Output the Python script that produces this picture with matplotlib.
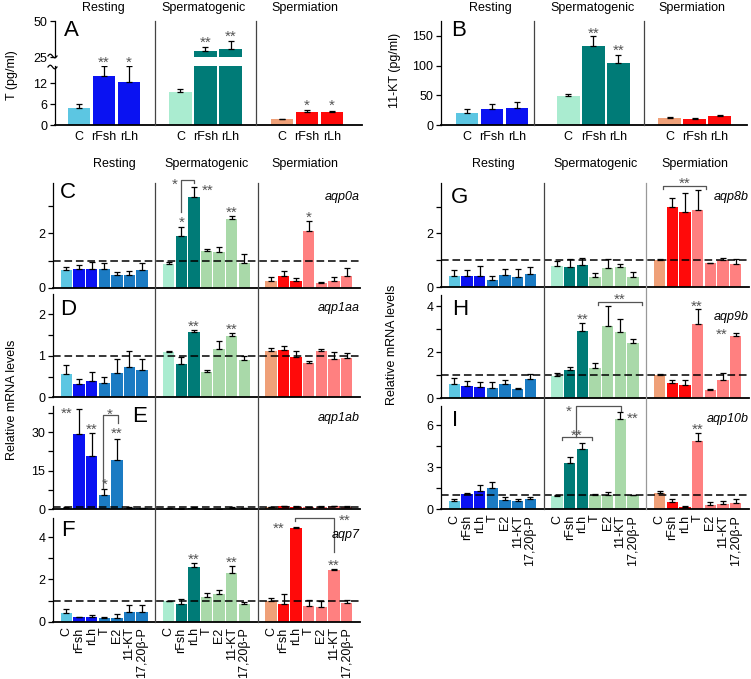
import numpy as np
import matplotlib.pyplot as plt
from matplotlib.lines import Line2D
from matplotlib.transforms import blended_transform_factory, offset_copy

plt.rcParams['font.family'] = ['Liberation Sans', 'DejaVu Sans']
plt.rcParams['font.size'] = 9

W, H = 751, 679

stages = ['Resting', 'Spermatogenic', 'Spermiation']
hormones = ['C', 'rFsh', 'rLh']
treatments = ['C', 'rFsh', 'rLh', 'T', 'E2', '11-KT', '17,20β-P']

# control, gonadotropins, steroids for each stage
stage_colors = [
    ('#5cc6e2', '#0a12f2', '#1b7bc3'),
    ('#aaecd0', '#007b77', '#a9d9a9'),
    ('#efa078', '#ff0a0a', '#ff8080'),
]

# ---- plasma steroids (pg/ml)
T_mean = [[5.0, 13.9, 12.4], [9.4, 29.2, 30.5], [1.6, 3.8, 3.6]]
T_sem = [[0.9, 2.9, 4.4], [0.9, 2.8, 5.5], [0.1, 0.6, 0.5]]
KT_mean = [[20, 27, 28], [49, 133.5, 104], [11, 10, 14.5]]
KT_sem = [[7, 9, 11], [4, 15.5, 14], [2, 2, 2.5]]

# ---- relative mRNA levels
aqp0a_mean = [[0.65, 0.68, 0.68, 0.68, 0.47, 0.47, 0.65],
              [0.86, 1.91, 3.35, 1.35, 1.30, 2.53, 0.90],
              [0.25, 0.44, 0.26, 2.10, 0.16, 0.25, 0.43]]
aqp0a_sem = [[0.10, 0.15, 0.28, 0.24, 0.10, 0.13, 0.25],
             [0.10, 0.31, 0.36, 0.08, 0.21, 0.11, 0.34],
             [0.16, 0.17, 0.08, 0.36, 0.05, 0.16, 0.28]]
aqp1aa_mean = [[0.55, 0.32, 0.40, 0.34, 0.59, 0.72, 0.66],
               [1.09, 0.80, 1.57, 0.60, 1.16, 1.48, 0.90],
               [1.12, 1.13, 0.98, 0.83, 1.12, 0.92, 0.95]]
aqp1aa_sem = [[0.23, 0.12, 0.22, 0.16, 0.33, 0.40, 0.27],
              [0.02, 0.16, 0.05, 0.06, 0.20, 0.06, 0.10],
              [0.08, 0.11, 0.14, 0.05, 0.04, 0.18, 0.12]]
aqp1ab_mean = [[0.5, 29.3, 20.7, 5.6, 19.2, 0.6, 0.4],
               [0.4, 0.3, 0.5, 0.2, 0.2, 0.6, 0.4],
               [0.8, 1.1, 1.0, 0.7, 0.9, 1.1, 1.0]]
aqp1ab_sem = [[0.2, 9.7, 8.8, 2.3, 8.0, 0.3, 0.1],
              [0.2, 0.2, 0.2, 0.1, 0.1, 0.2, 0.2],
              [0.2, 0.3, 0.2, 0.2, 0.2, 0.3, 0.2]]
aqp7_mean = [[0.40, 0.21, 0.21, 0.16, 0.19, 0.44, 0.44],
             [0.96, 0.82, 2.59, 1.16, 1.33, 2.32, 0.85],
             [0.96, 0.82, 4.42, 0.74, 0.70, 2.45, 0.87]]
aqp7_sem = [[0.19, 0.02, 0.11, 0.05, 0.16, 0.35, 0.33],
            [0.03, 0.24, 0.19, 0.22, 0.17, 0.30, 0.08],
            [0.15, 0.48, 0.08, 0.29, 0.29, 0.05, 0.16]]
aqp8b_mean = [[0.42, 0.41, 0.42, 0.26, 0.45, 0.38, 0.47],
              [0.79, 0.75, 0.82, 0.37, 0.72, 0.76, 0.37],
              [1.00, 3.00, 2.80, 2.87, 0.88, 1.00, 0.85]]
aqp8b_sem = [[0.21, 0.22, 0.38, 0.15, 0.21, 0.29, 0.26],
             [0.19, 0.28, 0.27, 0.14, 0.32, 0.10, 0.18],
             [0.05, 0.31, 0.72, 0.74, 0.03, 0.07, 0.18]]
aqp9b_mean = [[0.62, 0.53, 0.50, 0.46, 0.62, 0.40, 0.83],
              [0.98, 1.23, 2.93, 1.30, 3.16, 2.87, 2.42],
              [1.01, 0.65, 0.57, 3.23, 0.36, 0.78, 2.71]]
aqp9b_sem = [[0.25, 0.22, 0.22, 0.26, 0.18, 0.03, 0.21],
             [0.10, 0.15, 0.36, 0.22, 0.85, 0.56, 0.15],
             [0.05, 0.15, 0.23, 0.64, 0.03, 0.30, 0.14]]
aqp10b_mean = [[0.59, 1.07, 1.33, 1.50, 0.66, 0.59, 0.74],
               [0.98, 3.29, 4.29, 1.05, 1.00, 6.45, 1.00],
               [1.19, 0.55, 0.19, 4.90, 0.31, 0.38, 0.47]]
aqp10b_sem = [[0.12, 0.12, 0.41, 0.47, 0.24, 0.15, 0.16],
              [0.04, 0.47, 0.42, 0.02, 0.26, 0.48, 0.02],
              [0.12, 0.16, 0.02, 0.58, 0.19, 0.24, 0.27]]

STAR = '#555555'

fig = plt.figure(figsize=(W / 100, H / 100), dpi=100)


def rect(x0, y0, x1, y1):
    return [x0 / W, 1 - y1 / H, (x1 - x0) / W, (y1 - y0) / H]


def ftext(px, py, s, **kw):
    fig.text(px / W, 1 - py / H, s, **kw)


def style(ax, bottom=True):
    for s in ['top', 'right']:
        ax.spines[s].set_visible(False)
    ax.spines['left'].set_linewidth(0.9)
    if bottom:
        ax.spines['bottom'].set_linewidth(1.3)
    else:
        ax.spines['bottom'].set_visible(False)
    ax.tick_params(axis='y', direction='out', length=3.5, width=0.9, pad=2)
    ax.tick_params(axis='x', length=0)


def draw_bars(ax, means, sems, span):
    for g in range(3):
        n = len(means[g])
        x = g * span + np.arange(n)
        cols = [stage_colors[g][0 if i == 0 else (1 if i < 3 else 2)] for i in range(n)]
        ax.bar(x, means[g], width=0.9, color=cols, zorder=2)
        ax.errorbar(x, means[g], yerr=[np.zeros(n), sems[g]], fmt='none',
                    ecolor='black', elinewidth=0.9, capsize=2.2, capthick=0.9, zorder=3)


def stars(ax, items, span, size=11):
    tr = offset_copy(ax.transData, fig=fig, x=0, y=-0.58 * size, units='points')
    for g, i, y, s in items:
        ax.text(g * span + i, y, s, ha='center', va='baseline', fontsize=size,
                color=STAR, transform=tr, clip_on=False, zorder=5)


def bracket(ax, pts, span):
    ax.add_line(Line2D([g * span + i for g, i, y in pts], [y for g, i, y in pts],
                       color=STAR, lw=0.9, clip_on=False, zorder=5))


def dividers(ax, xs, y_top, y_bot, colors):
    tr = blended_transform_factory(ax.transData, fig.transFigure)
    for x, c in zip(xs, colors):
        fig.add_artist(Line2D([x, x], [1 - y_top / H, 1 - y_bot / H], color=c,
                              lw=0.9, transform=tr))


# ================= panel A (broken axis) =================
span3 = 4.05
axA = fig.add_axes(rect(55, 66, 362, 125))
axA2 = fig.add_axes(rect(55, 21, 362, 57))
for ax, lim in [(axA, (0, 16.9)), (axA2, (25, 50))]:
    draw_bars(ax, T_mean, T_sem, span3)
    ax.set_xlim(-0.96, 11.3)
    ax.set_ylim(*lim)
style(axA)
style(axA2, bottom=False)
axA.set_yticks([0, 6, 12])
axA2.set_yticks([25, 50])
axA2.set_xticks([])
axA.set_xticks([g * span3 + i for g in range(3) for i in range(3)])
axA.set_xticklabels(hormones * 3)
axA.tick_params(axis='x', pad=4)
stars(axA, [(0, 1, 19.1, '**'), (0, 2, 19.1, '*'), (2, 1, 6.9, '*'), (2, 2, 6.9, '*')], span3)
stars(axA2, [(1, 1, 38.2, '**'), (1, 2, 42.4, '**')], span3)
dividers(axA, [(2 + span3) / 2, (2 + span3) / 2 + span3], 21, 125, ['#444', '#444'])
# break marks
for yc in [56, 67]:
    t = np.linspace(0, 2 * np.pi, 30)
    xs = 48 + 9 * t / (2 * np.pi)
    ys = yc - 1.8 * np.sin(t)
    fig.add_artist(Line2D(xs / W, 1 - ys / H, color='black', lw=0.9))
ftext(71, 31, 'A', fontsize=16, ha='center', va='center')
ftext(12, 75, 'T (pg/ml)', rotation=90, ha='center', va='center')
for x, s in zip([103, 204, 305], stages):
    ftext(x, 8, s, ha='center', va='center')

# ================= panel B =================
axB = fig.add_axes(rect(441, 21, 747, 125))
draw_bars(axB, KT_mean, KT_sem, span3)
axB.set_xlim(-1.04, 11.2)
axB.set_ylim(0, 175)
style(axB)
axB.set_yticks([0, 50, 100, 150])
axB.set_xticks([g * span3 + i for g in range(3) for i in range(3)])
axB.set_xticklabels(hormones * 3)
axB.tick_params(axis='x', pad=4)
stars(axB, [(1, 1, 161.6, '**'), (1, 2, 133, '**')], span3)
dividers(axB, [2.68, 7.08], 21, 125, ['#444', '#444'])
ftext(459, 31, 'B', fontsize=16, ha='center', va='center')
ftext(395, 70, '11-KT (pg/ml)', rotation=90, ha='center', va='center')
for x, s in zip([490, 593, 692], stages):
    ftext(x, 8, s, ha='center', va='center')

# ================= mRNA panels =================
span7 = 8.1
div7 = [(6 + span7) / 2, (6 + span7) / 2 + span7]

# mean, sem, gene, letter, rect(px), ymax, tick step, label every, letter pos, gene pos y
panels = [
    (aqp0a_mean, aqp0a_sem, 'aqp0a', 'C', (53, 183, 360, 287.7), 3.85, 1, 2, (68, 193), 197),
    (aqp1aa_mean, aqp1aa_sem, 'aqp1aa', 'D', (53, 294, 360, 397.3), 2.49, 0.5, 2, (68, 310), 308),
    (aqp1ab_mean, aqp1ab_sem, 'aqp1ab', 'E', (53, 406, 360, 509.3), 40.1, 7.5, 2, (140, 417), 418),
    (aqp7_mean, aqp7_sem, 'aqp7', 'F', (53, 518.3, 360, 621.7), 4.9, 1, 2, (68, 530), 535),
    (aqp8b_mean, aqp8b_sem, 'aqp8b', 'G', (441, 183.3, 749, 287), 3.87, 1, 2, (460, 197), 197),
    (aqp9b_mean, aqp9b_sem, 'aqp9b', 'H', (441, 295, 749, 398.3), 4.49, 1, 2, (460, 310), 317),
    (aqp10b_mean, aqp10b_sem, 'aqp10b', 'I', (441, 405.7, 749, 509.3), 7.4, 1.5, 2, (455, 420), 419),
]

axes = {}
for mean, sem, gene, letter, r, ymax, step, every, lpos, gy in panels:
    ax = fig.add_axes(rect(*r))
    draw_bars(ax, mean, sem, span7)
    ax.set_xlim(-1.06, 23.26)
    ax.set_ylim(0, ymax)
    style(ax)
    ticks = np.arange(0, ymax + 1e-9, step)
    ax.set_yticks(ticks)
    ax.set_yticklabels(['%g' % t if k % every == 0 else '' for k, t in enumerate(ticks)])
    ax.axhline(1, color='black', lw=1.1, ls=(0, (5, 2.5)), zorder=4)
    if letter in ('F', 'I'):
        ax.set_xticks([g * span7 + i for g in range(3) for i in range(7)])
        ax.set_xticklabels(treatments * 3, rotation=90, va='top', ha='center')
        ax.tick_params(axis='x', pad=4)
    else:
        ax.set_xticks([])
    ftext(*lpos, letter, fontsize=16, ha='center', va='center')
    ftext(r[2], gy, gene, style='italic', ha='right', va='center')
    axes[letter] = ax

stars(axes['C'], [(1, 1, 2.56, '*'), (1, 3.1, 3.75, '**'), (1, 0.45, 3.96, '*'),
                  (1, 5, 2.93, '**'), (2, 3, 2.75, '*')], span7)
bracket(axes['C'], [(1, 1, 2.78), (1, 1, 3.96), (1, 2.03, 3.96), (1, 2.03, 3.85)], span7)

stars(axes['D'], [(1, 2, 1.82, '**'), (1, 5, 1.74, '**')], span7)

stars(axes['E'], [(0, 0, 38.9, '**'), (0, 2, 32.8, '**'), (0, 3, 11.4, '*'),
                  (0, 4, 31.1, '**'), (0, 3.41, 38.6, '*')], span7)
bracket(axes['E'], [(0, 2.94, 8.3), (0, 2.94, 36.6), (0, 4.1, 36.6), (0, 4.1, 33.5)], span7)

stars(axes['F'], [(1, 2, 3.16, '**'), (1, 5, 3.02, '**'), (2, 0.6, 4.63, '**'),
                  (2, 5.85, 5.02, '**'), (2, 5, 2.88, '**')], span7)
bracket(axes['F'], [(2, 1.95, 4.75), (2, 1.95, 4.9), (2, 5.0, 4.9), (2, 5.0, 3.3)], span7)

stars(axes['G'], [(2, 2.0, 4.03, '**')], span7)
bracket(axes['G'], [(2, 0.28, 3.65), (2, 0.28, 3.78), (2, 3.67, 3.78), (2, 3.67, 3.65)], span7)

stars(axes['H'], [(1, 2, 3.62, '**'), (1, 4.98, 4.49, '**'), (2, 2.96, 4.2, '**'),
                  (2, 4.93, 2.97, '**')], span7)
bracket(axes['H'], [(1, 3.24, 4.05), (1, 3.24, 4.2), (1, 6.72, 4.2), (1, 6.72, 4.05)], span7)

stars(axes['I'], [(1, 1.59, 5.61, '**'), (1, 0.95, 7.33, '*'), (1, 6.0, 6.8, '**'),
                  (2, 3, 6.02, '**')], span7)
bracket(axes['I'], [(1, 0.38, 4.95), (1, 0.38, 5.19), (1, 2.77, 5.19), (1, 2.77, 4.95)], span7)
bracket(axes['I'], [(1, 1.48, 5.19), (1, 1.48, 7.4), (1, 5.04, 7.4), (1, 5.04, 7.04)], span7)

dividers(axes['C'], div7, 183, 621.7, ['#444', '#444'])
dividers(axes['G'], div7, 183.3, 509.3, ['#444', '#999'])

for x, s in zip([114, 207, 305], stages):
    ftext(x, 164, s, ha='center', va='center')
for x, s in zip([493, 596, 695], stages):
    ftext(x, 164, s, ha='center', va='center')
ftext(12, 400, 'Relative mRNA levels', rotation=90, ha='center', va='center')
ftext(392, 345, 'Relative mRNA levels', rotation=90, ha='center', va='center')

fig.savefig('out.png', dpi=100)
